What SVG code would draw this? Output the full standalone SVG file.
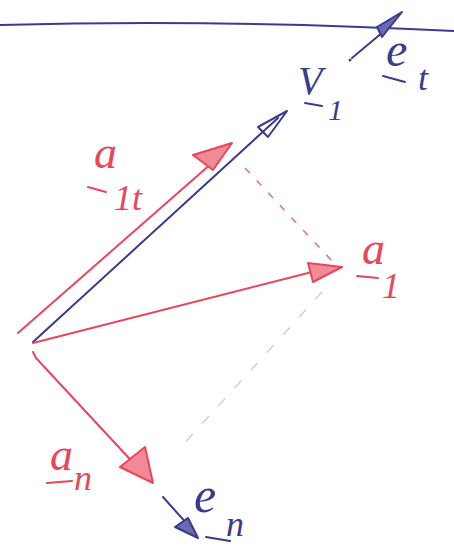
<svg xmlns="http://www.w3.org/2000/svg" width="454" height="550" viewBox="0 0 454 550">
<style>
.r{stroke:#e8465a;fill:none;stroke-width:2;stroke-linecap:round;stroke-linejoin:round}
.b{stroke:#3b3b8e;fill:none;stroke-width:2;stroke-linecap:round;stroke-linejoin:round}
.rh{stroke:#e8465a;fill:#f08a96;stroke-width:2;stroke-linejoin:round}
.bh{stroke:#3b3b8e;fill:#6a6ab0;stroke-width:2;stroke-linejoin:round}
.bo{stroke:#3b3b8e;fill:none;stroke-width:2;stroke-linejoin:round}
.lr{font-family:"Liberation Serif",serif;font-style:italic;fill:#e8465a}
.lb{font-family:"Liberation Serif",serif;font-style:italic;fill:#3b3b8e}
.dr{stroke:#e8465a;fill:none;stroke-width:1.5;stroke-dasharray:7 10;opacity:0.8}
.dg{stroke:#c8c8d0;fill:none;stroke-width:1.2;stroke-dasharray:10 14}
</style>
<rect width="454" height="550" fill="#ffffff"/>
<g id="connectors">
<path class="b" d="M0,25 Q220,19 454,31"/>
<path class="dr" d="M245,168 L333,262"/>
<path class="dg" d="M322,292 L180,448"/>
<g id="v1">
<path class="b" d="M33,342 L278,118"/>
<path class="bo" d="M258,127 L287,111 L268,137 Z"/>
</g>
<g id="a1t">
<path class="r" d="M18,333 L212,163"/>
<path class="rh" d="M193,155 L232,143 L213,170 Z"/>
</g>
<g id="a1">
<path class="r" d="M33,343 L312,272"/>
<path class="rh" d="M308,263 L342,267 L313,282 Z"/>
</g>
<g id="an">
<path class="r" d="M33,352 L36,358 L140,470"/>
<path class="rh" d="M120,467 L145,447 L153,483 Z"/>
</g>
<g id="en">
<path class="b" d="M163,497 L188,525"/>
<path class="bh" d="M175,527 L188,518 L198,538 Z"/>
</g>
<g id="et">
<circle cx="350" cy="60" r="1.5" fill="#3b3b8e"/>
<path class="b" d="M352,58 L383,32"/>
<path class="bh" d="M377,27 L402,12 L382,37 Z"/>
</g>
</g>
<g id="label-a1t">
<text class="lr" x="94" y="168" font-size="46">a</text>
<text class="lr" x="114" y="210" font-size="36">1t</text>
<path class="r" d="M88,187 L106,192"/>
</g>
<g id="label-v1">
<text class="lb" x="298" y="94" font-size="40">V</text>
<text class="lb" x="328" y="120" font-size="30">1</text>
<path class="b" d="M305,103 L322,106"/>
</g>
<g id="label-et">
<text class="lb" x="386" y="66" font-size="48">e</text>
<text class="lb" x="418" y="90" font-size="36">t</text>
<path class="b" d="M383,76 L405,82"/>
</g>
<g id="label-a1">
<text class="lr" x="362" y="264" font-size="46">a</text>
<text class="lr" x="382" y="298" font-size="36">1</text>
<path class="r" d="M357,276 L378,278"/>
</g>
<g id="label-an">
<text class="lr" x="50" y="470" font-size="46">a</text>
<text class="lr" x="74" y="490" font-size="36">n</text>
<path class="r" d="M47,483 L72,481"/>
</g>
<g id="label-en">
<text class="lb" x="194" y="512" font-size="50">e</text>
<text class="lb" x="226" y="536" font-size="36">n</text>
<path class="b" d="M206,537 L230,541"/>
</g>
</svg>
